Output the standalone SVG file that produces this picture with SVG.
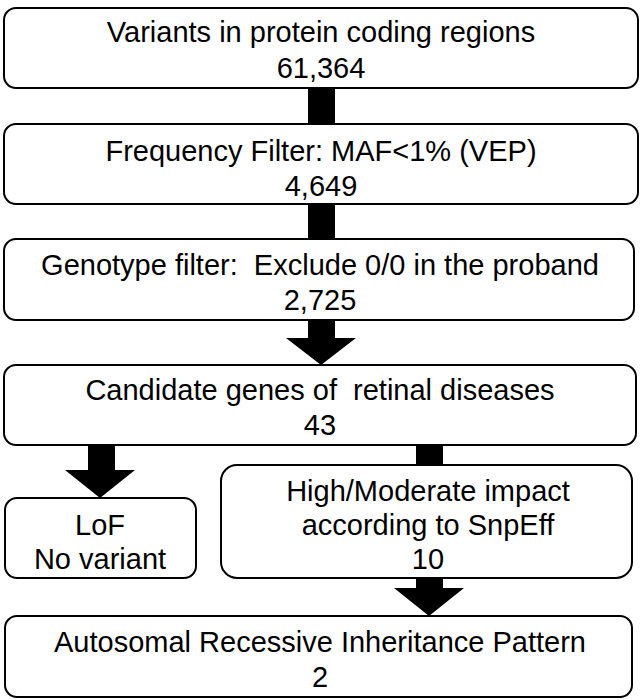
<svg xmlns="http://www.w3.org/2000/svg" width="641" height="700" viewBox="0 0 641 700">
<style>
.box{fill:#fff;stroke:#000;stroke-width:2}
.t{font-family:"Liberation Sans",Arial,sans-serif;font-size:29px;fill:#000;text-anchor:middle}
.c{fill:#000;stroke:none}
</style>
<rect width="641" height="700" fill="#fff"/>
<g id="connectors">
<rect class="c" x="308" y="88" width="27" height="36"/>
<rect class="c" x="308" y="204" width="27" height="35"/>
<polygon class="c" points="308,320 335,320 335,338 356,338 321,365 286,338 308,338"/>
<polygon class="c" points="88,445 115,445 115,470 135,470 100,498 65,470 88,470"/>
<rect class="c" x="416" y="445" width="27" height="21"/>
<polygon class="c" points="416,578 443,578 443,588 464,588 429,616 394,588 416,588"/>
</g>
<g id="n1">
<rect class="box" x="4" y="8" width="634" height="80" rx="12"/>
<text class="t" x="321" y="42">Variants in protein coding regions</text>
<text class="t" x="321" y="78">61,364</text>
</g>
<g id="n2">
<rect class="box" x="4" y="124" width="634" height="80" rx="12"/>
<text class="t" x="321" y="161">Frequency Filter: MAF&lt;1% (VEP)</text>
<text class="t" x="321" y="196">4,649</text>
</g>
<g id="n3">
<rect class="box" x="4" y="239" width="630" height="81" rx="12"/>
<text class="t" x="320" y="275" xml:space="preserve">Genotype filter:  Exclude 0/0 in the proband</text>
<text class="t" x="320" y="310">2,725</text>
</g>
<g id="n4">
<rect class="box" x="4" y="365" width="632" height="80" rx="12"/>
<text class="t" x="320" y="400" xml:space="preserve">Candidate genes of  retinal diseases</text>
<text class="t" x="320" y="435">43</text>
</g>
<g id="n5">
<rect class="box" x="5" y="498" width="191" height="80" rx="12"/>
<text class="t" x="100" y="535">LoF</text>
<text class="t" x="100" y="569">No variant</text>
</g>
<g id="n6">
<rect class="box" x="221" y="465" width="411" height="113" rx="16"/>
<text class="t" x="428" y="501">High/Moderate impact</text>
<text class="t" x="428" y="535">according to SnpEff</text>
<text class="t" x="428" y="569">10</text>
</g>
<g id="n7">
<rect class="box" x="5" y="616" width="627" height="81" rx="12"/>
<text class="t" x="320" y="652">Autosomal Recessive Inheritance Pattern</text>
<text class="t" x="320" y="687">2</text>
</g>
</svg>
